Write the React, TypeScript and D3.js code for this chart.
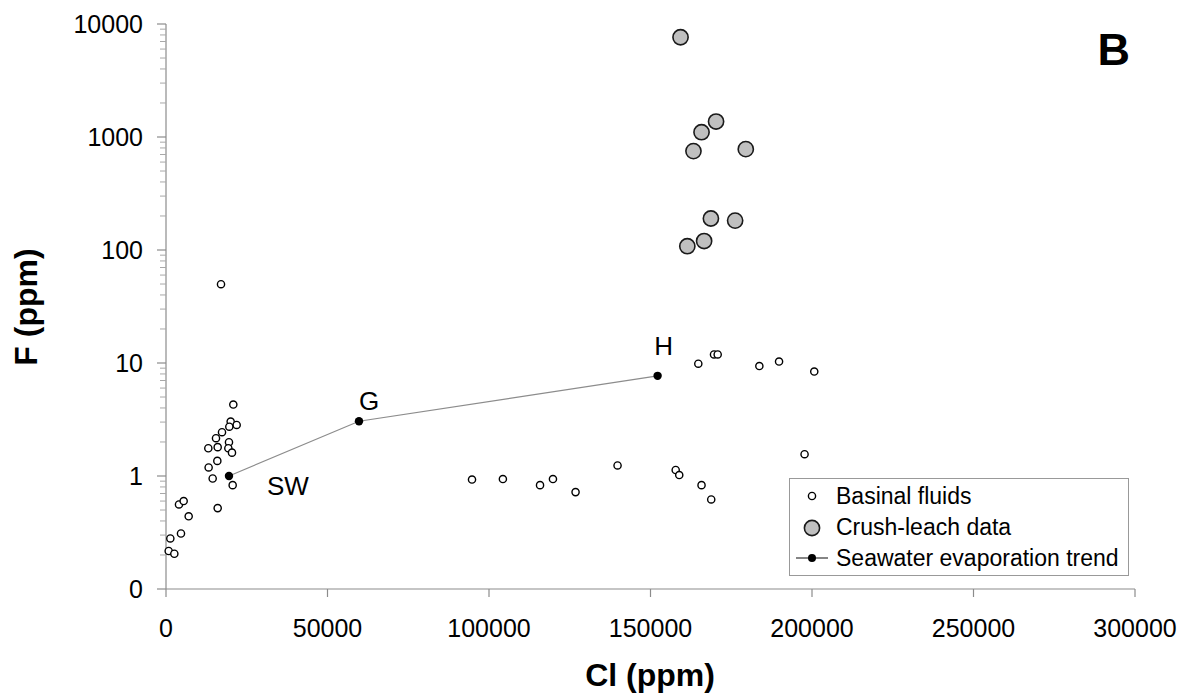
import React from "react";
import * as d3 from "d3";

const basinalCl = [17030, 20840, 20020, 21880, 19600, 17340, 15480, 13100, 16000, 19500, 19300, 20430, 15890, 13200, 14450, 20640, 16000, 4020, 5470, 7020, 4640, 1340, 830, 2580, 94740, 104300, 115800, 119800, 126800, 139800, 157800, 158900, 165800, 168800, 164800, 169660, 170800, 183700, 189800, 200700, 197700];
const basinalF = [49.8, 4.29, 3.03, 2.83, 2.73, 2.44, 2.16, 1.76, 1.8, 1.99, 1.76, 1.61, 1.36, 1.19, 0.95, 0.83, 0.52, 0.56, 0.6, 0.44, 0.31, 0.28, 0.217, 0.205, 0.93, 0.94, 0.83, 0.94, 0.72, 1.24, 1.13, 1.02, 0.83, 0.62, 9.86, 11.9, 11.9, 9.4, 10.3, 8.4, 1.56];

const crushCl = [159300, 170300, 165800, 163300, 179500, 168700, 176200, 166600, 161400];
const crushF = [7630, 1370, 1103, 750, 781, 190, 182, 120, 108];

const seawaterCl = [19500, 59750, 152200];
const seawaterF = [1.0, 3.05, 7.7];
const seawaterLabels = ["SW", "G", "H"];

const xTicks = [0, 50000, 100000, 150000, 200000, 250000, 300000];
const yTicks = [0.1, 1, 10, 100, 1000, 10000];
const yTickLabels = ["0", "1", "10", "100", "1000", "10000"];

const legendItems = ["Basinal fluids", "Crush-leach data", "Seawater evaporation trend"];

const FONT = "'Liberation Sans', Arial, Helvetica, sans-serif";
const AXIS = "#8c8c8c";

export default function App() {
  const x = d3.scaleLinear().domain([0, 300000]).range([166, 1135]);
  const y = d3.scaleLog().domain([0.1, 10000]).range([589, 24]);

  const minor: number[] = [];
  for (let dec = 0.1; dec < 10000; dec *= 10) {
    for (let k = 2; k <= 9; k++) minor.push(dec * k);
  }

  const line = d3
    .line<number>()
    .x((_, i) => x(seawaterCl[i]))
    .y((_, i) => y(seawaterF[i]));

  const labelOffsets = [
    [59, 19],
    [10, -11],
    [6, -21],
  ];

  const x0 = x.range()[0];
  const x1 = x.range()[1];
  const yb = y.range()[0];
  const yt = y.range()[1];

  return (
    <svg
      width={1190}
      height={699}
      style={{ position: "absolute", left: 0, top: 0, background: "#fff" }}
      fontFamily={FONT}
    >
      <rect x={0} y={0} width={1190} height={699} fill="#fff" />
      {/* y axis */}
      <line x1={x0} x2={x0} y1={yt} y2={yb} stroke={AXIS} strokeWidth={1.2} />
      {minor.map((v, i) => (
        <line key={"m" + i} x1={x0 - 6} x2={x0} y1={y(v)} y2={y(v)} stroke="#a8a8a8" strokeWidth={1} />
      ))}
      {yTicks.map((v, i) => (
        <g key={"yt" + i}>
          <line x1={x0 - 9} x2={x0} y1={y(v)} y2={y(v)} stroke={AXIS} strokeWidth={1.2} />
          <text x={143} y={y(v) + 9} textAnchor="end" fontSize={25} fill="#000">
            {yTickLabels[i]}
          </text>
        </g>
      ))}
      {/* x axis */}
      <line x1={x0} x2={x1} y1={yb} y2={yb} stroke={AXIS} strokeWidth={1.2} />
      {xTicks.map((v, i) => (
        <g key={"xt" + i}>
          <line x1={x(v)} x2={x(v)} y1={yb} y2={yb + 8} stroke={AXIS} strokeWidth={1.2} />
          <text x={x(v)} y={637} textAnchor="middle" fontSize={25} fill="#000">
            {d3.format("d")(v)}
          </text>
        </g>
      ))}
      {/* titles */}
      <text x={650} y={686} textAnchor="middle" fontSize={32} fontWeight="bold">
        Cl (ppm)
      </text>
      <text transform="translate(37,307) rotate(-90)" textAnchor="middle" fontSize={32} fontWeight="bold">
        F (ppm)
      </text>
      <text x={1097.5} y={65} fontSize={45} fontWeight="bold">
        B
      </text>

      {/* seawater trend */}
      <path d={line(seawaterCl) || ""} fill="none" stroke="#8c8c8c" strokeWidth={1.2} />
      {seawaterCl.map((c, i) => (
        <g key={"sw" + i}>
          <circle cx={x(c)} cy={y(seawaterF[i])} r={4.2} fill="#000" />
          <text
            x={x(c) + labelOffsets[i][0]}
            y={y(seawaterF[i]) + labelOffsets[i][1]}
            textAnchor="middle"
            fontSize={26}
          >
            {seawaterLabels[i]}
          </text>
        </g>
      ))}

      {/* basinal fluids */}
      {basinalCl.map((c, i) => (
        <circle key={"b" + i} cx={x(c)} cy={y(basinalF[i])} r={3.6} fill="#fff" stroke="#000" strokeWidth={1.4} />
      ))}

      {/* crush-leach */}
      {crushCl.map((c, i) => (
        <circle key={"c" + i} cx={x(c)} cy={y(crushF[i])} r={7.6} fill="#c0c0c0" stroke="#1a1a1a" strokeWidth={1.6} />
      ))}

      {/* legend */}
      <rect x={789.5} y={478.5} width={339} height={97} fill="#fff" stroke="#999" strokeWidth={1} />
      <circle cx={812} cy={496} r={3.6} fill="#fff" stroke="#000" strokeWidth={1.4} />
      <circle cx={812} cy={528} r={7.6} fill="#c0c0c0" stroke="#1a1a1a" strokeWidth={1.6} />
      <line x1={796} x2={828} y1={558} y2={558} stroke="#333" strokeWidth={1.2} />
      <circle cx={812} cy={558} r={4} fill="#000" />
      {legendItems.map((t, i) => (
        <text key={"l" + i} x={836} y={504 + i * 31} fontSize={23} fill="#000">
          {t}
        </text>
      ))}
    </svg>
  );
}
